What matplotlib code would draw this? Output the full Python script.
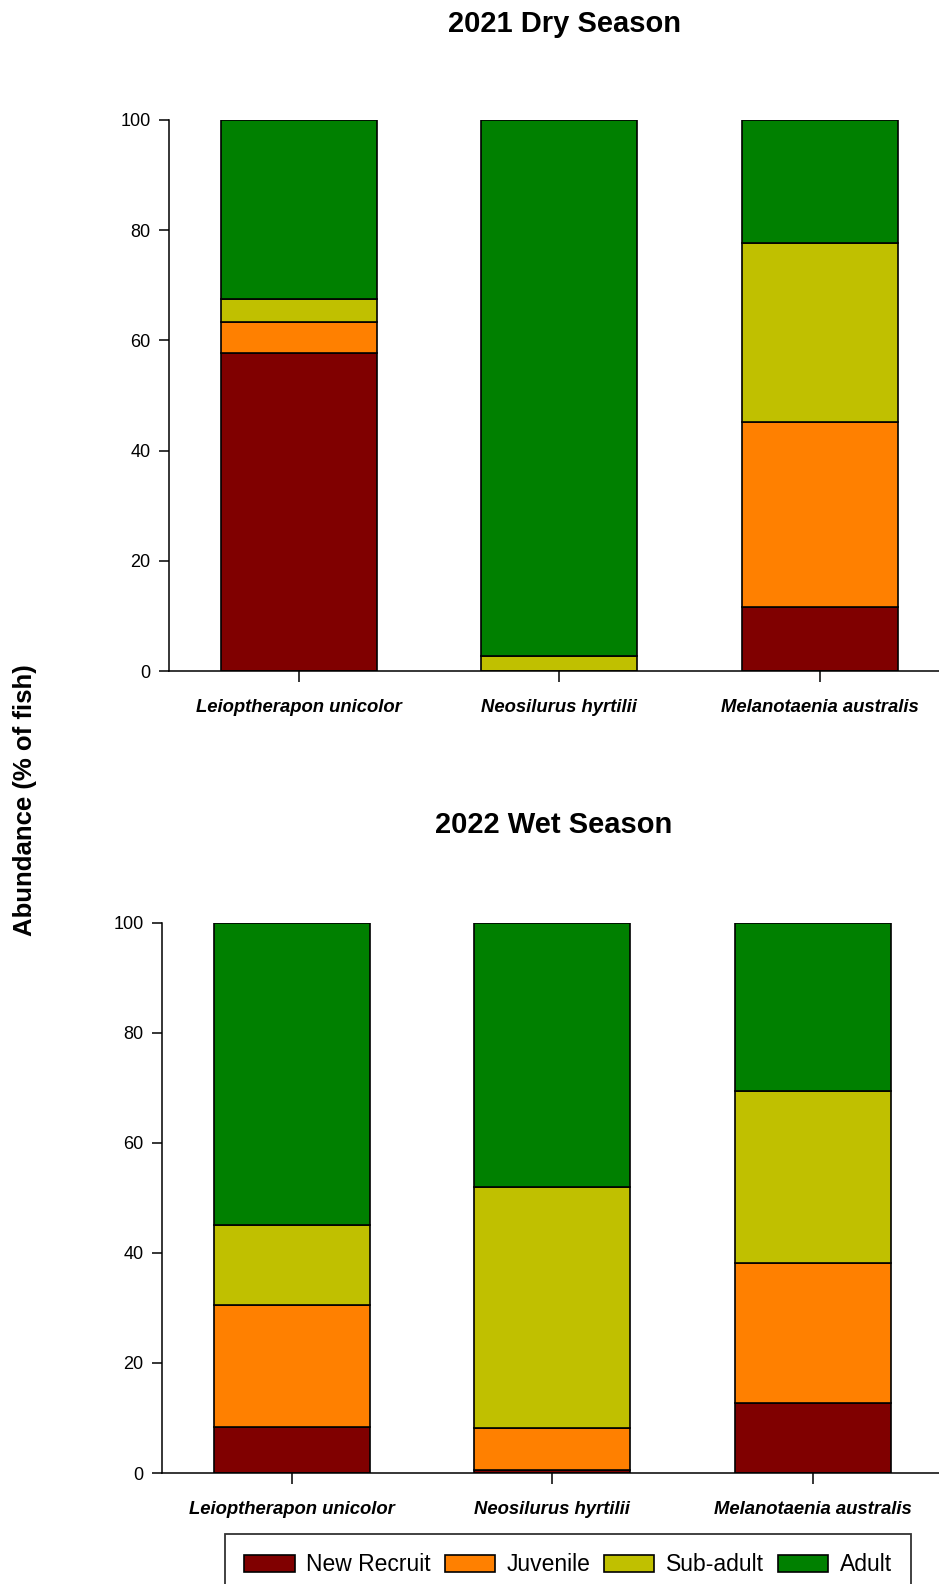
import matplotlib
matplotlib.use("Agg")
import matplotlib.pyplot as plt
import numpy as np

# species on the x axis
species = ["Leioptherapon unicolor", "Neosilurus hyrtilii", "Melanotaenia australis"]
stages = ["New Recruit", "Juvenile", "Sub-adult", "Adult"]
stage_colors = ["#800000", "#FF8000", "#C0C000", "#008000"]

# % of fish in each life stage, 2021 dry season
dry_recruit = [57.7, 0.0, 11.6]
dry_juvenile = [5.7, 0.0, 33.5]
dry_subadult = [4.1, 2.8, 32.5]
dry_adult = [32.5, 97.2, 22.4]

# % of fish in each life stage, 2022 wet season
wet_recruit = [8.4, 0.5, 12.7]
wet_juvenile = [22.2, 7.6, 25.5]
wet_subadult = [14.5, 43.8, 31.2]
wet_adult = [54.9, 48.1, 30.6]

yticks = [0, 20, 40, 60, 80, 100]

W, H = 939, 1584
fig = plt.figure(figsize=(W / 100, H / 100), dpi=100)

font = ["Liberation Sans", "DejaVu Sans"]


def stacked(ax, parts):
    x = np.arange(len(species))
    bottom = np.zeros(len(species))
    handles = []
    for vals, col, name in zip(parts, stage_colors, stages):
        b = ax.bar(x, vals, width=0.6, bottom=bottom, color=col,
                   edgecolor="black", linewidth=1.2, label=name, zorder=2)
        handles.append(b)
        bottom = bottom + np.array(vals)
    ax.set_xlim(-0.5, 2.5)
    ax.set_ylim(0, 100)
    ax.set_yticks(yticks)
    ax.set_xticks(x)
    ax.set_xticklabels(species, family=font, style="italic",
                       weight="bold", fontsize=13.3)
    for lab in ax.get_yticklabels():
        lab.set_family(font)
        lab.set_fontsize(13)
    ax.tick_params(axis="y", direction="out", length=7, width=1.1, pad=6)
    ax.tick_params(axis="x", direction="out", length=8, width=1.1, pad=12)
    for s in ["top", "right"]:
        ax.spines[s].set_visible(False)
    for s in ["left", "bottom"]:
        ax.spines[s].set_linewidth(1.1)
    return handles


# axes run off the right edge of the page, so the x axis line reaches it
ax1 = fig.add_axes([168.6 / W, 1 - 671 / H, 781.5 / W, 551 / H])
ax2 = fig.add_axes([161.5 / W, 1 - 1473 / H, 781.5 / W, 550.3 / H])

stacked(ax1, [dry_recruit, dry_juvenile, dry_subadult, dry_adult])
handles = stacked(ax2, [wet_recruit, wet_juvenile, wet_subadult, wet_adult])

fig.text(565 / W, 1 - 24 / H, "2021 Dry Season", ha="center", va="center",
         fontsize=21, weight="bold", family=font)
fig.text(554 / W, 1 - 825 / H, "2022 Wet Season", ha="center", va="center",
         fontsize=21, weight="bold", family=font)
fig.text(25 / W, 1 - 800 / H, "Abundance (% of fish)", rotation=90,
         ha="center", va="center", fontsize=18.5, weight="bold", family=font)

leg = fig.legend(handles, stages, loc="upper center",
                 bbox_to_anchor=(568 / W, 1 - 1534 / H), ncol=4,
                 frameon=True, fancybox=False, edgecolor="black",
                 prop={"family": font, "size": 16.5},
                 handlelength=2.2, handleheight=0.8, handletextpad=0.5,
                 columnspacing=0.6, borderpad=0.85, borderaxespad=0)
leg.get_frame().set_linewidth(1.3)

fig.savefig("out.png", dpi=100)
